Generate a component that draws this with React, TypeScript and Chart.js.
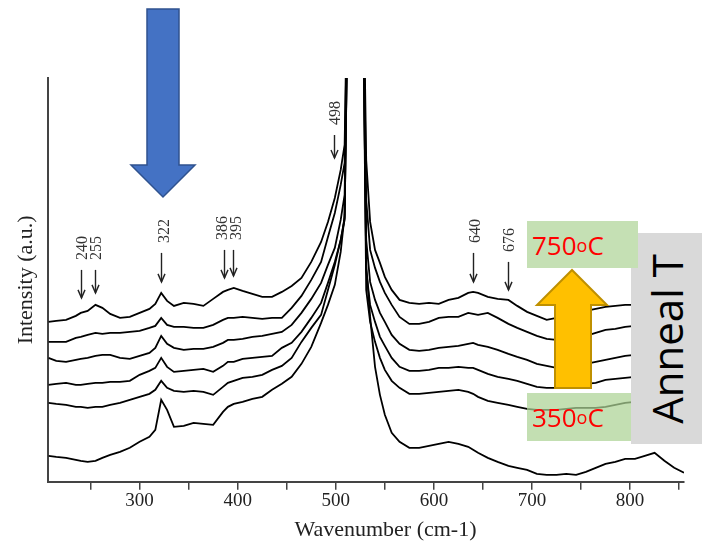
import React, { useEffect, useRef } from 'react';
import { Chart, registerables } from 'chart.js';

Chart.register(...registerables);

// Raman shift axis (cm-1)
const wavenumbers = [
  207, 215, 225, 235, 240, 247, 255, 262, 270, 280,
  290, 300, 310, 316, 322, 328, 335, 345, 355, 365,
  375, 385, 390, 396, 405, 415, 425, 435, 445, 455,
  465, 475, 485, 492, 499, 505, 509,
  512, 516, 520, 524, 528,
  531, 535, 540, 545, 550, 557, 565, 575, 585,
  595, 605, 615, 625, 635, 640, 645, 655, 665, 676,
  685, 695, 705, 715, 725, 735, 745, 755, 765, 775,
  785, 795, 805, 815, 825, 835, 845, 855,
];

// Intensities (a.u.), stacked spectra from top to bottom
const spectrum1 = [
  160, 161, 162, 166, 169, 171, 177, 174, 168, 164,
  165, 169, 173, 178, 189, 181, 176, 179, 178, 176,
  183, 190, 192, 194, 191, 188, 185, 185, 190, 196,
  204, 220, 240, 260, 284, 312, 337,
  520, 1000, 1500, 1000, 520,
  322, 260, 232, 219, 205, 192, 182, 179, 178,
  179, 178, 182, 184, 189, 190, 189, 185, 183, 182,
  176, 170, 166, 162, 164, 166, 168, 171, 173, 175,
  176, 177, 177, 178, 178, 179, 179, 179,
];
const spectrum2 = [
  140, 140, 140, 144, 145, 147, 149, 148, 149, 149,
  150, 151, 154, 156, 164, 157, 155, 155, 154, 154,
  157, 162, 164, 164, 165, 164, 163, 164, 164, 174,
  186, 202, 220, 245, 269, 297, 319,
  500, 980, 1450, 980, 500,
  282, 232, 214, 200, 189, 177, 165, 158, 158,
  160, 164, 165, 165, 169, 168, 167, 169, 164, 158,
  154, 150, 146, 143, 142, 142, 143, 146, 149, 152,
  153, 155, 156, 156, 157, 157, 158, 158,
];
const spectrum3 = [
  124, 121, 120, 122, 123, 124, 126, 127, 127, 124,
  123, 126, 129, 134, 146, 138, 134, 132, 133, 133,
  135, 139, 142, 142, 143, 145, 146, 148, 150, 157,
  169, 183, 199, 217, 234, 262, 287,
  490, 960, 1400, 960, 490,
  242, 200, 182, 169, 160, 147, 138, 132, 131,
  132, 134, 135, 136, 138, 139, 137, 135, 132, 128,
  125, 122, 118, 116, 114, 115, 116, 118, 120, 122,
  124, 126, 127, 128, 128, 129, 129, 130,
];
const spectrum4 = [
  97, 98, 99, 97, 97, 98, 99, 99, 100, 100,
  101, 107, 111, 114, 124, 115, 110, 111, 112, 113,
  110, 116, 120, 120, 123, 124, 125, 126, 134, 139,
  150, 164, 179, 199, 220, 242, 262,
  480, 940, 1350, 940, 480,
  212, 177, 160, 145, 136, 124, 115, 111, 111,
  112, 114, 114, 115, 114, 114, 112, 108, 105, 103,
  101, 98, 95, 94, 94, 94, 96, 98, 99, 102,
  103, 104, 105, 106, 106, 107, 107, 108,
];
const spectrum5 = [
  79, 78, 77, 75, 75, 74, 75, 75, 77, 79,
  82, 85, 88, 92, 101, 94, 91, 90, 91, 90,
  87, 95, 99, 101, 104, 105, 107, 112, 116, 124,
  140, 154, 167, 192, 217, 242, 264,
  470, 920, 1300, 920, 470,
  192, 160, 140, 124, 112, 101, 94, 88, 88,
  89, 90, 91, 92, 90, 88, 85, 81, 79, 77,
  75, 73, 72, 72, 72, 73, 74, 74, 74, 75,
  77, 79, 80, 81, 81, 82, 82, 83,
];
const spectrum6 = [
  26, 25, 24, 22, 21, 20, 21, 24, 27, 30,
  34, 40, 45, 52, 82, 72, 55, 56, 59, 58,
  57, 70, 75, 78, 80, 83, 85, 92, 98, 105,
  118, 135, 159, 177, 197, 230, 267,
  470, 900, 1250, 900, 470,
  217, 165, 115, 87, 67, 49, 40, 34, 34,
  36, 38, 40, 38, 35, 32, 29, 24, 20, 16,
  14, 12, 8, 7, 7, 8, 7, 10, 14, 18,
  20, 23, 23, 26, 29, 21, 14, 9,
];
const spectra = [spectrum1, spectrum2, spectrum3, spectrum4, spectrum5, spectrum6];
const spectrumNames = ['Spectrum 1', 'Spectrum 2', 'Spectrum 3', 'Spectrum 4', 'Spectrum 5', 'Spectrum 6'];

// Axis ticks
const xTickValues = [250, 300, 350, 400, 450, 500, 550, 600, 650, 700, 750, 800, 850];

// Peak markers
const peakWavenumbers = [240, 255, 322, 386, 395, 498, 640, 676];
const peakLabels = ['240', '255', '322', '386', '395', '498', '640', '676'];
const arrowTips = [184, 189, 200, 204, 206, 324, 200, 192];
const arrowTops = [212, 212, 229, 232, 232, 347, 229, 220];

const SERIF = "'Liberation Serif', 'Times New Roman', serif";
const SANS = "'Open Sans', 'Noto Sans', sans-serif";

const labelShift = [1, 1, 3, -2, 3, 1, 2, 1];

const peakPlugin = {
  id: 'peakMarks',
  afterDatasetsDraw(chart: any) {
    const { ctx } = chart;
    const x = chart.scales.x;
    const y = chart.scales.y;
    ctx.save();
    ctx.strokeStyle = '#222';
    ctx.fillStyle = '#333';
    ctx.lineWidth = 1.4;
    ctx.font = `16px ${SERIF}`;
    peakWavenumbers.forEach((w, i) => {
      const px = Math.round(x.getPixelForValue(w)) + 0.5;
      const yTip = y.getPixelForValue(arrowTips[i]);
      const yTop = y.getPixelForValue(arrowTops[i]);
      ctx.beginPath();
      ctx.moveTo(px, yTop);
      ctx.lineTo(px, yTip);
      ctx.stroke();
      ctx.beginPath();
      ctx.moveTo(px - 3.5, yTip - 8);
      ctx.lineTo(px, yTip);
      ctx.lineTo(px + 3.5, yTip - 8);
      ctx.stroke();
      ctx.save();
      ctx.translate(px + labelShift[i], yTop - 10);
      ctx.rotate(-Math.PI / 2);
      ctx.textAlign = 'left';
      ctx.textBaseline = 'middle';
      ctx.fillText(peakLabels[i], 0, 0);
      ctx.restore();
    });
    ctx.restore();
  },
};

export default function App() {
  const canvasRef = useRef<HTMLCanvasElement>(null);

  useEffect(() => {
    const canvas = canvasRef.current;
    if (!canvas) return;
    const chart = new Chart(canvas, {
      type: 'line',
      data: {
        datasets: spectra.map((s, i) => ({
          label: spectrumNames[i],
          data: s.map((v, j) => ({ x: wavenumbers[j], y: v })),
          borderColor: '#000',
          borderWidth: 1.8,
          pointRadius: 0,
          tension: 0,
          fill: false,
        })),
      },
      options: {
        animation: false,
        responsive: false,
        devicePixelRatio: 1,
        layout: { padding: { left: 0, top: 78, right: 18, bottom: 0 } },
        plugins: { legend: { display: false }, tooltip: { enabled: false } },
        scales: {
          x: {
            type: 'linear',
            min: 207,
            max: 855,
            afterBuildTicks: (scale: any) => {
              scale.ticks = xTickValues.map((v) => ({ value: v }));
            },
            ticks: {
              autoSkip: false,
              maxRotation: 0,
              padding: 0,
              color: '#222',
              font: { family: SERIF, size: 19 },
              callback: (v: any) => (Number(v) % 100 === 0 ? String(v) : ''),
            },
            grid: {
              display: true,
              drawOnChartArea: false,
              drawTicks: true,
              tickLength: 8,
              color: '#444',
              lineWidth: 1.5,
            },
            border: { display: true, color: '#444', width: 2 },
            title: {
              display: true,
              text: '       Wavenumber (cm-1)',
              color: '#222',
              font: { family: SERIF, size: 22 },
              padding: { top: 4, bottom: 1 },
            },
          },
          y: {
            type: 'linear',
            min: 0,
            max: 404,
            ticks: { display: false },
            grid: { display: false, drawTicks: false },
            border: { display: true, color: '#444', width: 2 },
            title: {
              display: true,
              text: 'Intensity (a.u.)',
              color: '#222',
              font: { family: SERIF, size: 22 },
              padding: { top: 13, bottom: 9 },
            },
          },
        },
      },
      plugins: [peakPlugin],
    } as any);
    return () => chart.destroy();
  }, []);

  const boxText: React.CSSProperties = {
    position: 'absolute',
    display: 'flex',
    alignItems: 'center',
    paddingLeft: 5,
    boxSizing: 'border-box',
    color: '#FF0000',
    fontFamily: SANS,
    fontSize: 26,
    lineHeight: 1,
    whiteSpace: 'nowrap',
  };
  const sup: React.CSSProperties = { fontSize: 18, verticalAlign: 5, lineHeight: 1 };

  return (
    <div style={{ position: 'absolute', left: 0, top: 0, width: 702, height: 544, overflow: 'hidden', background: '#fff' }}>
      <canvas ref={canvasRef} width={702} height={544} style={{ position: 'absolute', left: 0, top: 0, width: 702, height: 544 }} />
      <div style={{ ...boxText, left: 527, top: 393, width: 111, height: 48, background: 'rgba(172,211,148,0.72)' }}>
        350<span style={sup}>o</span>C
      </div>
      <div style={{ position: 'absolute', left: 631, top: 233, width: 71, height: 211, background: '#D9D9D9' }}>
        <div
          style={{
            position: 'absolute',
            left: '50%',
            top: '50%',
            transform: 'translate(-50%, -50%) rotate(-90deg)',
            fontFamily: SANS,
            fontSize: 42,
            lineHeight: 1,
            color: '#000',
            whiteSpace: 'nowrap',
          }}
        >
          Anneal T
        </div>
      </div>
      <svg width={702} height={544} style={{ position: 'absolute', left: 0, top: 0, pointerEvents: 'none' }}>
        <polygon
          points="555,388 591,388 591,305 607,305 572,270 537,305 555,305"
          fill="#FFC000"
          stroke="#BF9000"
          strokeWidth={2}
        />
        <polygon
          points="147,9 179,9 179,165 195,165 163,197 131,165 147,165"
          fill="#4472C4"
          stroke="#2F528F"
          strokeWidth={1.5}
        />
      </svg>
      <div style={{ ...boxText, left: 527, top: 221, width: 111, height: 47, background: '#C5E0B4' }}>
        750<span style={sup}>o</span>C
      </div>
    </div>
  );
}
